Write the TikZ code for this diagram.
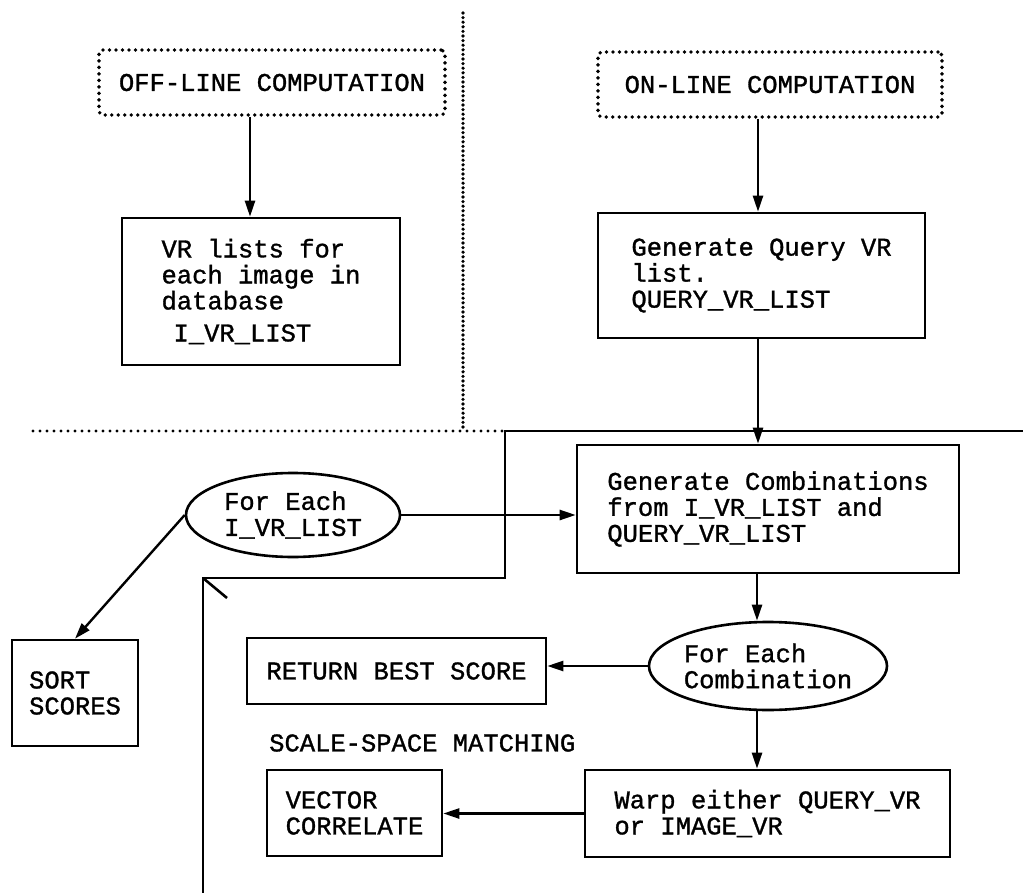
\documentclass[tikz,border=0pt]{standalone}
\usepackage{fontspec}
\setmonofont{Liberation Mono}[FakeBold=1.2]
\usetikzlibrary{arrows.meta,shapes.geometric}
\newcommand{\dfont}{\ttfamily\fontsize{25.5}{26}\selectfont}
\tikzset{
  box/.style={draw, rectangle, line width=2.6pt, inner sep=0pt, font=\dfont, align=left},
  dotbox/.style={box, line width=3.8pt, dash pattern=on 0pt off 6.5pt, line cap=round, rounded corners=4pt},
  oval/.style={draw, ellipse, line width=2.6pt, inner sep=0pt, font=\dfont, align=left},
  arr/.style={line width=2.4pt, -{Triangle[length=16pt,width=10pt]}},
  vsep/.style={line width=3.6pt, dash pattern=on 0pt off 4.6pt, line cap=round},
  hsep/.style={line width=3.2pt, dash pattern=on 0pt off 7pt, line cap=round},
  frame/.style={line width=2.6pt},
  lbl/.style={inner sep=0pt, font=\dfont}
}
\begin{document}
\begin{tikzpicture}[x=1pt,y=-1pt]
\useasboundingbox (0,0) rectangle (1023,893);
% separators
\coordinate (s1) at (463,13);
\coordinate (s2) at (463,431);
\coordinate (s3) at (33,431);
\coordinate (s4) at (505,431);
\draw[vsep] (s1) -- (s2);
\draw[hsep] (s3) -- (s4);
% frame lines
\coordinate (fa) at (505,431);
\coordinate (fb) at (1023,431);
\coordinate (fc) at (505,578);
\coordinate (fd) at (203,578);
\coordinate (fe) at (203,893);
\coordinate (ft) at (227,598);
\draw[frame] (fb) -- (fa) -- (fc) -- (fd) -- (fe);
\draw[frame] (fd) -- (ft);
% nodes
\node[dotbox, minimum width=346pt, minimum height=65pt] (off) at (272,82.5) {OFF-LINE COMPUTATION};
\node[dotbox, minimum width=344pt, minimum height=65pt] (on) at (770,84.5) {ON-LINE COMPUTATION};
\node[box, minimum width=278pt, minimum height=147pt] (vr) at (261,291.5) {VR lists for\\each image in\\database\\[6pt]\hspace*{12pt}I\_VR\_LIST};
\node[box, minimum width=327pt, minimum height=125pt] (query) at (761.5,275.5) {Generate Query VR\\list.\\QUERY\_VR\_LIST};
\node[oval, minimum width=214pt, minimum height=84pt] (ellI) at (293,515) {For Each\\I\_VR\_LIST};
\node[box, minimum width=382pt, minimum height=128pt] (comb) at (768,509) {Generate Combinations\\from I\_VR\_LIST and\\QUERY\_VR\_LIST};
\node[box, minimum width=126pt, minimum height=106pt] (sort) at (75,693) {SORT\\SCORES};
\node[oval, minimum width=218pt, minimum height=88pt] (ellC) at (768,666) {For Each\\Combination};
\node[box, minimum width=299pt, minimum height=66pt] (ret) at (396.5,671) {RETURN BEST SCORE};
\node[lbl, anchor=west] (ssm) at (269,743) {SCALE-SPACE MATCHING};
\node[box, minimum width=365pt, minimum height=87pt] (warp) at (767.5,813.5) {Warp either QUERY\_VR\\or IMAGE\_VR};
\node[box, minimum width=175pt, minimum height=86pt] (vec) at (354.5,813) {VECTOR\\CORRELATE};
% connectors
\coordinate (qx) at (758,0);
\coordinate (cx) at (757,0);
\draw[arr] ([xshift=-22pt]off.south) -- ([xshift=-11pt]vr.north);
\draw[arr] (on.south -| qx) -- (query.north -| qx);
\draw[arr] (query.south -| qx) -- (comb.north -| qx);
\draw[arr] (ellI.east) -- (comb.west |- ellI.east);
\draw[arr] (ellI.west) -- (sort.north);
\draw[arr] (comb.south -| cx) -- (ellC.north -| cx);
\draw[arr] (ellC.west) -- (ellC.west -| ret.east);
\draw[arr] (ellC.south -| cx) -- (warp.north -| cx);
\draw[arr] (warp.west) -- (warp.west -| vec.east);
\end{tikzpicture}
\end{document}
